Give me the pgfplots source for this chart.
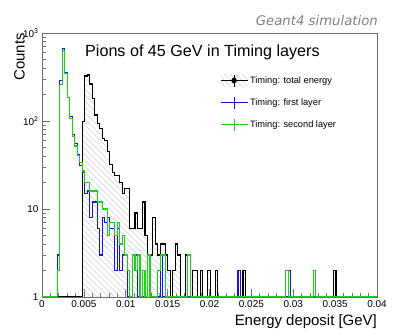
\documentclass[border=0pt]{standalone}
\usepackage{fontspec}
\setmainfont{Liberation Sans}
\newfontfamily\geantfont{DejaVu Sans}
\usepackage{pgfplots}
\usepackage{pgfplotstable}
\pgfplotsset{compat=1.18}
\usetikzlibrary{patterns.meta}
\definecolor{rootblue}{RGB}{20,20,225}
\definecolor{rootgreen}{RGB}{25,210,25}
\definecolor{framegray}{RGB}{110,110,110}
\definecolor{hatchgray}{RGB}{205,205,205}

% bin left edge [GeV], counts (only where the count changes)
\pgfplotstableread{
x      n
0      1
0.0048 98
0.0051 325
0.0054 333
0.0057 263
0.0060 181
0.0063 117
0.0066 94
0.0069 83
0.0072 63
0.0075 60
0.0078 45
0.0081 32
0.0084 26
0.0087 24
0.0090 24
0.0093 20
0.0096 15
0.0099 17
0.0102 17
0.0105 6
0.0108 6
0.0111 9
0.0114 6
0.0117 6
0.0120 12
0.0123 5
0.0126 3
0.0129 3
0.0132 8
0.0135 4
0.0138 3
0.0141 4
0.0144 4
0.0147 3
0.0150 2
0.0153 1
0.0156 2
0.0159 4
0.0162 3
0.0165 1
0.0171 3
0.0174 1
0.0180 2
0.0186 1
0.0189 2
0.0192 1
0.0198 2
0.0201 1
0.0207 2
0.0210 1
0.0240 2
0.0243 1
0.0348 2
0.0351 1
0.0402 1
}\totaltable

\begin{document}
\begin{tikzpicture}
\path[use as bounding box] (-42bp,-34bp) rectangle (377bp,297bp);
\begin{axis}[
    scale only axis,
    width=335bp, height=264bp,
    at={(0,0)}, anchor=south west,
    xmin=0, xmax=0.04,
    ymode=log, ymin=1, ymax=1000,
    scaled x ticks=false,
    axis line style={framegray, line width=0.9bp},
    tick style={framegray, line width=0.7bp},
    tick align=inside,
    xtick pos=bottom, ytick pos=left,
    major tick length=8bp, minor tick length=4bp,
    xtick={0,0.005,0.01,0.015,0.02,0.025,0.03,0.035,0.04},
    xticklabels={0,0.005,0.01,0.015,0.02,0.025,0.03,0.035,0.04},
    minor xtick={0.001,0.002,0.003,0.004,0.006,0.007,0.008,0.009,
                 0.011,0.012,0.013,0.014,0.016,0.017,0.018,0.019,
                 0.021,0.022,0.023,0.024,0.026,0.027,0.028,0.029,
                 0.031,0.032,0.033,0.034,0.036,0.037,0.038,0.039},
    ytick={1,10,100,1000},
    yticklabels={1,10,10\textsuperscript{2},10\textsuperscript{3}},
    minor ytick={2,3,4,5,6,7,8,9,20,30,40,50,60,70,80,90,
                 200,300,400,500,600,700,800,900},
    tick label style={font=\fontsize{10}{12}\selectfont},
    legend cell align=left,
    legend style={at={(0.531,0.845)}, anchor=north west,
                  draw=none, fill=none, inner sep=0pt,
                  font=\fontsize{9.3}{11}\selectfont,
                  row sep=9.3bp},
]
% hatched area under the total energy histogram
\addplot[const plot, draw=none, forget plot,
         pattern={Lines[angle=-45, distance=4.2bp, line width=0.5bp]},
         pattern color=hatchgray] table[x=x, y=n] {\totaltable};
% Timing: total energy
\addplot[const plot, black, line width=1.1bp,
         legend image code/.code={
            \fill[draw=none, pattern={Lines[angle=-45, distance=4.2bp, line width=0.5bp]},
                  pattern color=hatchgray] (0bp,-6bp) rectangle (27bp,6bp);
            \draw[black, line width=1bp] (0bp,0bp) -- (27bp,0bp);
            \draw[black, line width=0.8bp] (13.5bp,-6bp) -- (13.5bp,6bp);
            \fill[black] (13.5bp,0bp) circle (2.2bp);}]
    table[x=x, y=n] {\totaltable};
\addlegendentry{Timing: total energy}
% Timing: first layer
\addplot[const plot, rootblue, line width=1.1bp,
         legend image code/.code={
            \draw[rootblue, line width=1bp] (0bp,0bp) -- (27bp,0bp);
            \draw[rootblue, line width=0.8bp] (13.5bp,-6bp) -- (13.5bp,6bp);}]
coordinates {
(0,1) (0.0018,3) (0.0021,292) (0.0024,670) (0.0027,360) (0.0030,185)
(0.0033,112) (0.0036,70) (0.0039,55) (0.0042,42) (0.0045,31) (0.0048,26)
(0.0051,15) (0.0054,16) (0.0057,8) (0.0060,12) (0.0063,12) (0.0066,6)
(0.0069,3) (0.0072,8) (0.0075,7) (0.0078,8) (0.0081,6) (0.0084,6)
(0.0087,2) (0.0090,6) (0.0093,2) (0.0096,3) (0.0099,3) (0.0102,1)
(0.0108,3) (0.0114,1) (0.0126,3) (0.0129,1) (0.0141,3) (0.0144,1)
(0.0234,2) (0.0237,1) (0.0294,2) (0.0297,1) (0.0402,1)
};
\addlegendentry{Timing: first layer}
% Timing: second layer
\addplot[const plot, rootgreen, line width=1.1bp,
         legend image code/.code={
            \draw[rootgreen, line width=1bp] (0bp,0bp) -- (27bp,0bp);
            \draw[rootgreen, line width=0.8bp] (13.5bp,-6bp) -- (13.5bp,6bp);}]
coordinates {
(0,1) (0.0018,2) (0.0021,257) (0.0024,640) (0.0027,350) (0.0030,185)
(0.0033,108) (0.0036,66) (0.0039,52) (0.0042,41) (0.0045,34) (0.0048,27)
(0.0051,20) (0.0054,20) (0.0057,16) (0.0060,16) (0.0063,16) (0.0066,12)
(0.0069,12) (0.0072,10) (0.0075,10) (0.0078,5) (0.0081,7) (0.0084,7)
(0.0087,5) (0.0090,7) (0.0093,4) (0.0096,5) (0.0099,3) (0.0102,2)
(0.0105,1) (0.0108,3) (0.0111,2) (0.0114,3) (0.0117,1) (0.0120,2)
(0.0123,1) (0.0126,3) (0.0129,1) (0.0138,2) (0.0141,3) (0.0147,1)
(0.0174,3) (0.0177,1) (0.0291,2) (0.0294,1) (0.0324,2) (0.0327,1)
(0.0402,1)
};
\addlegendentry{Timing: second layer}
\end{axis}
\node[anchor=west, inner sep=0pt, font=\fontsize{16.2}{19}\selectfont]
    at (43bp,245bp) {Pions of 45 GeV in Timing layers};
\node[anchor=east, inner sep=0pt, text=gray, font=\geantfont\itshape\fontsize{13.3}{16}\selectfont]
    at (336bp,276bp) {Geant4 simulation};
\node[rotate=90, anchor=south east, inner sep=0pt, font=\fontsize{15}{18}\selectfont]
    at (-17bp,264bp) {Counts};
\node[anchor=north east, inner sep=0pt, font=\fontsize{15}{18}\selectfont]
    at (335bp,-17bp) {Energy deposit [GeV]};
\end{tikzpicture}
\end{document}
